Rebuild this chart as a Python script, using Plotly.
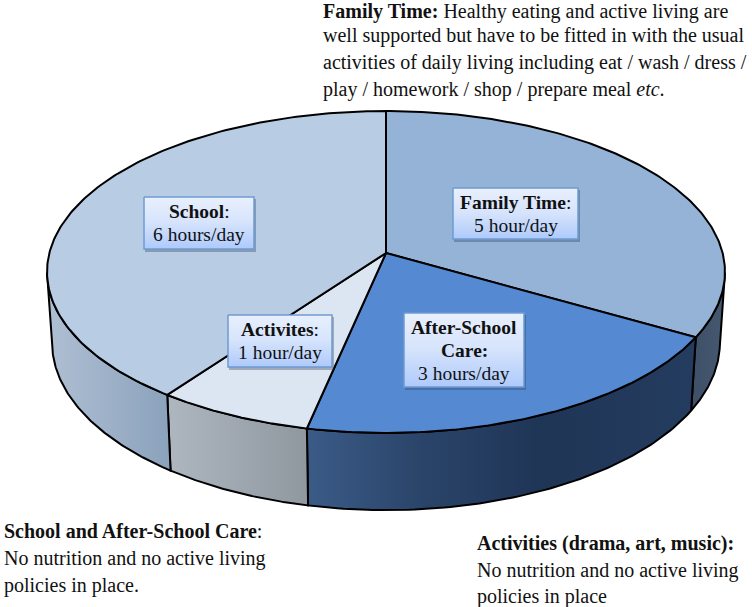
import numpy as np
import plotly.graph_objects as go

# ---- data ----
categories = ["Family Time", "After-School Care", "Activities", "School"]
hours = [5, 3, 1, 6]
top_colors = ["#95B3D7", "#558AD2", "#DCE6F2", "#B8CCE4"]
side_scales = [
    [[0, "#3E5068"], [1, "#45586F"]],
    [[0, "#3B5B87"], [0.3, "#2A4469"], [0.6, "#1F3556"], [1, "#243C5F"]],
    [[0, "#AEB6C0"], [1, "#8F979F"]],
    [[0, "#AFBFD3"], [1, "#8BA2BC"]],
]
top_lines = [
    ["<b>Family Time:</b> Healthy eating and active living are", 322, 11],
    ["well supported but have to be fitted in with the usual", 322, 35],
    ["activities of daily living including eat / wash / dress /", 322, 62],
    ["play / homework / shop / prepare meal <i>etc</i>.", 322, 89],
]
left_lines = [
    ["<b>School and After-School Care</b>:", 3, 531],
    ["No nutrition and no active living", 3, 558],
    ["policies in place.", 3, 585],
]
right_lines = [
    ["<b>Activities (drama, art, music):</b>", 476, 543],
    ["No nutrition and no active living", 476, 570],
    ["policies in place", 476, 596],
]
boxes = [
    # x0, x1, y0, y1, lines
    [144, 254, 197, 249, ["<b>School</b>:", "6 hours/day"]],
    [453, 578, 188, 239, ["<b>Family Time</b>:", "5 hour/day"]],
    [228, 332, 315, 367, ["<b>Activites</b>:", "1 hour/day"]],
    [404, 524, 313, 387, ["<b>After-School</b>", "<b>Care:</b>", "3 hours/day"]],
]

FONT = "Liberation Serif"
CX, SX, TILT = 386.0, 336.6, 0.118


def project(theta_deg, bottom=False):
    t = np.radians(np.asarray(theta_deg, dtype=float))
    u, v = np.sin(t), -np.cos(t)
    w = 1 / (1 - TILT * v)
    if bottom:
        return CX + 0.985 * SX * u * w, 323 + 165 * v * w
    return CX + SX * u * w, 253 + 158.7 * v * w


fig = go.Figure()
edges = np.concatenate([[0], np.cumsum(hours)]) / sum(hours) * 360

# side walls (front part of the rim only)
for i in range(len(hours)):
    a, b = max(edges[i], 97), min(edges[i + 1], 263)
    if b <= a:
        continue
    th = np.linspace(a, b, 80)
    xt, yt = project(th)
    xb, yb = project(th, bottom=True)
    xs = np.concatenate([xt, xb[::-1], xt[:1]])
    ys = np.concatenate([yt, yb[::-1], yt[:1]])
    fig.add_trace(go.Scatter(
        x=xs, y=ys, mode="lines", fill="toself",
        fillgradient=dict(type="horizontal", colorscale=side_scales[i]),
        line=dict(color="#000000", width=2), hoverinfo="skip", showlegend=False))

# top faces
for i in range(len(hours)):
    th = np.linspace(edges[i], edges[i + 1], 160)
    xt, yt = project(th)
    xs = np.concatenate([[CX], xt, [CX]])
    ys = np.concatenate([[253], yt, [253]])
    fig.add_trace(go.Scatter(
        x=xs, y=ys, mode="lines", fill="toself", fillcolor=top_colors[i],
        line=dict(color="#000000", width=2), name=categories[i],
        hoverinfo="skip", showlegend=False))

# label boxes
anns = []
for x0, x1, y0, y1, lines in boxes:
    fig.add_trace(go.Scatter(
        x=[x0 + 1, x1 + 2, x1 + 2, x0 + 1, x0 + 1],
        y=[y0 + 2, y0 + 2, y1 + 3, y1 + 3, y0 + 2],
        mode="lines", fill="toself", fillcolor="rgba(40,60,90,0.35)",
        line=dict(width=0), hoverinfo="skip", showlegend=False))
    fig.add_trace(go.Scatter(
        x=[x0, x1, x1, x0, x0], y=[y0, y0, y1, y1, y0],
        mode="lines", fill="toself",
        fillgradient=dict(type="vertical", start=y0, stop=y1,
                          colorscale=[[0, "#E9F0FD"], [0.5, "#D5E3FC"], [1, "#AECAFB"]]),
        line=dict(color="#6F9BD1", width=1.5), hoverinfo="skip", showlegend=False))
    n = len(lines)
    for j, s in enumerate(lines):
        yc = (y0 + y1) / 2 + (j - (n - 1) / 2) * 23
        anns.append(dict(x=(x0 + x1) / 2, y=yc, text=s, xanchor="center", yanchor="middle",
                         font=dict(family=FONT, size=19.5, color="#111111")))

for s, x, y in top_lines + left_lines + right_lines:
    anns.append(dict(x=x, y=y, text=s, xanchor="left", yanchor="middle",
                     font=dict(family=FONT, size=20, color="#111111")))

for a in anns:
    a.update(xref="x", yref="y", showarrow=False, borderpad=0)

fig.update_layout(
    width=752, height=607, margin=dict(l=0, r=0, t=0, b=0),
    paper_bgcolor="white", plot_bgcolor="white", showlegend=False,
    xaxis=dict(range=[0, 752], visible=False, fixedrange=True),
    yaxis=dict(range=[607, 0], visible=False, fixedrange=True),
    annotations=anns,
)
fig.write_html("out.html", config={"displayModeBar": False},
               post_script="document.body.style.margin='0';")
